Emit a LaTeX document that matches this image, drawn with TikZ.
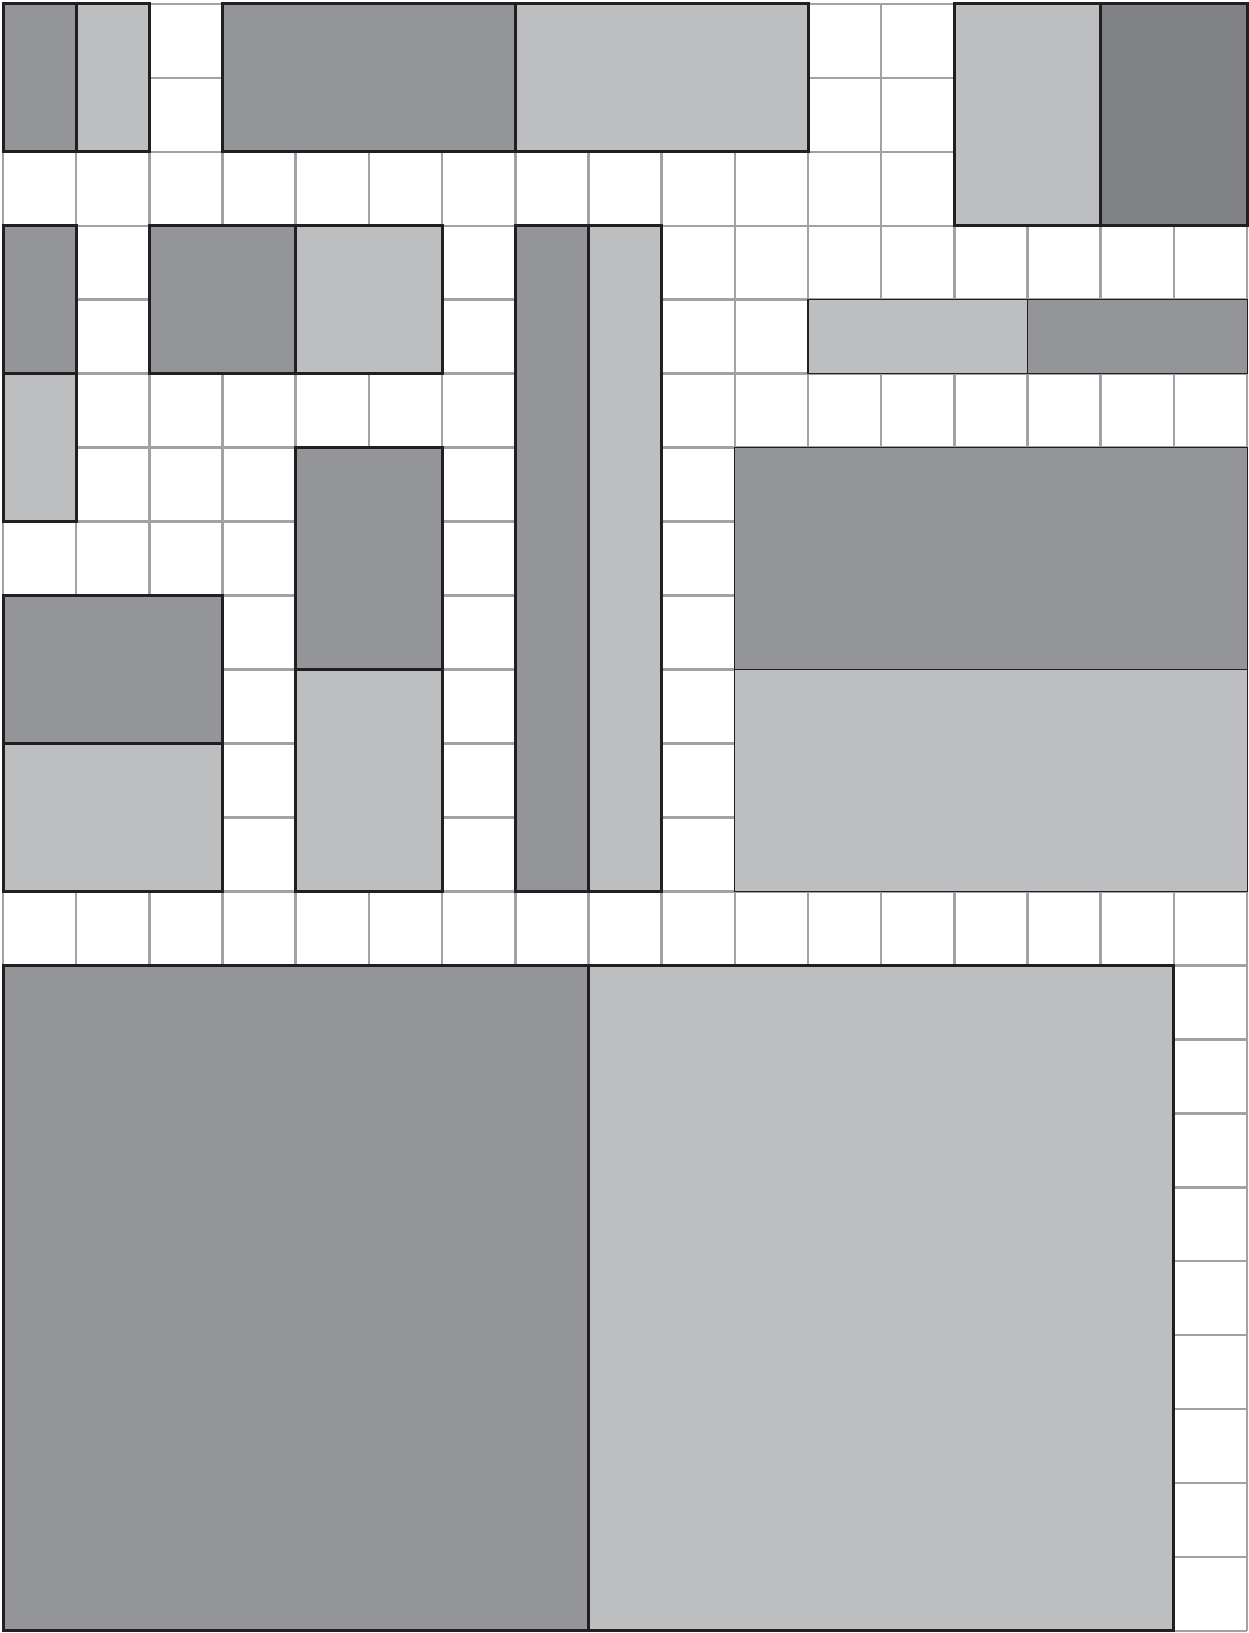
\documentclass[tikz,border=0pt]{standalone}
\definecolor{darkfill}{HTML}{939598}
\definecolor{lightfill}{HTML}{BCBEC0}
\definecolor{darkerfill}{HTML}{808285}
\definecolor{gridgray}{HTML}{A0A2A5}
\definecolor{edge}{HTML}{231F20}
\begin{document}
\begin{tikzpicture}[x=36.59pt,y=-36.975pt,
  gridline/.style={draw=gridgray,line width=1.3pt},
  blk/.style={draw=edge,line width=1.5pt},
  thinblk/.style={draw=edge,line width=0.6pt},
  dk/.style={fill=darkfill},
  lt/.style={fill=lightfill},
  dkr/.style={fill=darkerfill}]
\useasboundingbox[fill=white] (-0.041,-0.054) rectangle (17.013,22.028);
% grid
\foreach \i in {0,...,17} \draw[gridline] (\i,0) -- (\i,22);
\foreach \j in {0,...,22} \draw[gridline] (0,\j) -- (17,\j);
% thin-bordered blocks
\draw[thinblk,lt] (11,4) rectangle (14,5);
\draw[thinblk,dk] (14,4) rectangle (17,5);
\draw[thinblk,dk] (10,6) rectangle (17,9);
\draw[thinblk,lt] (10,9) rectangle (17,12);
% thick-bordered blocks
\draw[blk,dk] (0,0) rectangle (1,2);
\draw[blk,lt] (1,0) rectangle (2,2);
\draw[blk,dk] (3,0) rectangle (7,2);
\draw[blk,lt] (7,0) rectangle (11,2);
\draw[blk,lt] (13,0) rectangle (15,3);
\draw[blk,dkr] (15,0) rectangle (17,3);
\draw[blk,dk] (0,3) rectangle (1,5);
\draw[blk,lt] (0,5) rectangle (1,7);
\draw[blk,dk] (2,3) rectangle (4,5);
\draw[blk,lt] (4,3) rectangle (6,5);
\draw[blk,dk] (7,3) rectangle (8,12);
\draw[blk,lt] (8,3) rectangle (9,12);
\draw[blk,dk] (4,6) rectangle (6,9);
\draw[blk,lt] (4,9) rectangle (6,12);
\draw[blk,dk] (0,8) rectangle (3,10);
\draw[blk,lt] (0,10) rectangle (3,12);
\draw[blk,dk] (0,13) rectangle (8,22);
\draw[blk,lt] (8,13) rectangle (16,22);
\end{tikzpicture}
\end{document}
